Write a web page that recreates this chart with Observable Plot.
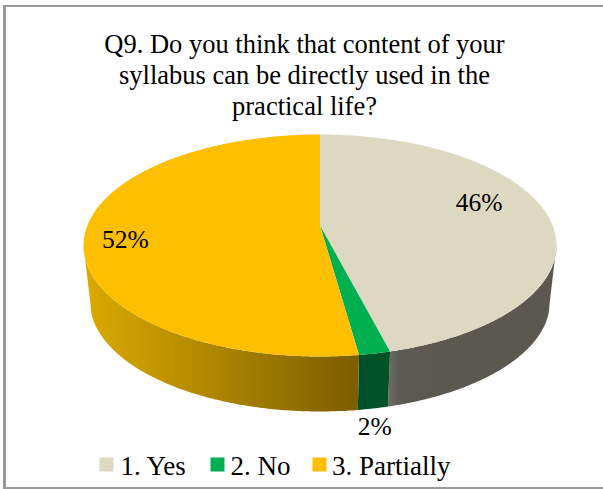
<!DOCTYPE html>
<html>
<head>
<meta charset="utf-8">
<script src="https://cdn.jsdelivr.net/npm/d3@7"></script>
<script src="https://cdn.jsdelivr.net/npm/@observablehq/plot@0.6"></script>
<style>
html,body{margin:0;padding:0;background:#fff;overflow:hidden}
svg{display:block}
#chart{position:relative;width:603px;height:489px;overflow:hidden}
#frame{position:absolute;left:3px;top:5px;width:640px;height:480px;border:2px solid #999;border-left-width:3px;box-sizing:content-box}
</style>
</head>
<body>
<div id="chart"></div>
<script>
const categories = ["1. Yes", "2. No", "3. Partially"];
const shares = [46, 1.8, 52.2];
const topColors = ["#DCD8C2", "#00AF50", "#FDBF00"];
const titleLines = ["Q9. Do you think that content of your", "syllabus can be directly used in the", "practical life?"];

// 3D pie camera: a perspective-foreshortened disc
const cx = 319.5, A = 232.6, k = -0.18, a = 66.9, b = 225;
function project(theta, r = 1) {
  const u = Math.sin(theta) * r, v = -Math.cos(theta) * r, w = 1 + k * v;
  return {x: cx + A * u / w, y: (a * v + b) / w};
}
function lower(p) {
  const drop = 55 + 1.5 * (356 - p.y) / 111 + 3.5 * Math.exp(-Math.max(0, p.y - 245) / 20);
  return {x: cx + (p.x - cx) * 0.97, y: p.y + drop};
}
const tau = Math.PI * 2;
const total = d3.sum(shares);
let acc = 0;
const slices = shares.map((s, i) => {
  const start = acc / total * tau; acc += s;
  return {i, start, end: acc / total * tau, name: categories[i], share: s};
});
function arcAngles(t0, t1) {
  const n = Math.max(2, Math.ceil((t1 - t0) / 0.01));
  return d3.range(n + 1).map(j => t0 + (t1 - t0) * j / n);
}
const topPolys = slices.flatMap(s => {
  const pts = [{x: cx, y: b}, ...arcAngles(s.start, s.end).map(t => project(t))];
  return pts.map(p => ({...p, i: s.i}));
});
// visible front wall of each slice, between the silhouette tangents
const tR = Math.PI - Math.acos(0.18), tL = tau - tR;
const sidePolys = slices.flatMap(s => {
  const t0 = Math.max(s.start, tR), t1 = Math.min(s.end, tL);
  if (t1 <= t0) return [];
  const ang = arcAngles(t0, t1);
  const upper = ang.map(t => project(t));
  const low = ang.slice().reverse().map(t => lower(project(t)));
  return [...upper, ...low].map(p => ({...p, i: s.i}));
});

const sideFill = ["url(#sideBeige)", "url(#sideGreen)", "url(#sideGold)"];
const labelRadius = [0.7, 1, 0.83];
const labelShift = [-13, 73, 8];
const labels = slices.map((s, i) => {
  const p = project((s.start + s.end) / 2, labelRadius[i]);
  return {x: p.x, y: p.y + labelShift[i], text: `${Math.round(s.share)}%`};
});

const legendX = [120, 230, 331.5];
const legendBox = [106, 217, 319];
const legendRows = categories.map((c, i) => ({name: c, x: legendX[i], box: legendBox[i], color: topColors[i]}));
const font = "'Liberation Serif','Times New Roman',serif";

const defs = () => {
  const ns = "http://www.w3.org/2000/svg";
  const d = document.createElementNS(ns, "defs");
  d.innerHTML = `
  <linearGradient id="sideGold" gradientUnits="userSpaceOnUse" x1="88" x2="358" y1="0" y2="0">
    <stop offset="0" stop-color="#D9A900"/><stop offset="1" stop-color="#7C5D00"/>
  </linearGradient>
  <linearGradient id="sideGreen" gradientUnits="userSpaceOnUse" x1="357" x2="388" y1="0" y2="0">
    <stop offset="0" stop-color="#00502A"/><stop offset="1" stop-color="#005327"/>
  </linearGradient>
  <linearGradient id="sideBeige" gradientUnits="userSpaceOnUse" x1="386" x2="556" y1="0" y2="0">
    <stop offset="0" stop-color="#716E66"/><stop offset="0.08" stop-color="#5C5951"/><stop offset="1" stop-color="#5B5850"/>
  </linearGradient>`;
  return d;
};

const plot = Plot.plot({
  width: 603, height: 489,
  margin: 0,
  x: {domain: [0, 603], range: [0, 603], axis: null},
  y: {domain: [0, 489], range: [0, 489], axis: null},
  style: {background: "#fff"},
  marks: [
    defs,
    ...slices.map((s, i) => Plot.line(sidePolys.filter(d => d.i === i), {x: "x", y: "y", fill: sideFill[i], stroke: "none", curve: "linear"})),
    ...slices.map((s, i) => Plot.line(topPolys.filter(d => d.i === i), {x: "x", y: "y", fill: topColors[i], stroke: "none", curve: "linear"})),
    Plot.text(labels, {x: "x", y: "y", text: "text", fontFamily: font, fontSize: 25.5, fill: "#000", textAnchor: "middle", lineAnchor: "middle"}),
    Plot.text(titleLines, {x: () => 304, y: (d, i) => [52, 83, 114][i], text: d => d, fontFamily: font, fontSize: 26.5, fill: "#000", textAnchor: "middle", lineAnchor: "bottom"}),
    Plot.dot(legendRows, {x: "box", y: () => 464, symbol: "square", r: 7.9, fill: "color", stroke: "none"}),
    Plot.text(legendRows, {x: "x", y: () => 474, text: "name", fontFamily: font, fontSize: 27, fill: "#000", textAnchor: "start", lineAnchor: "bottom"})
  ]
});
const chart = document.getElementById("chart");
chart.appendChild(plot);
const frame = document.createElement("div");
frame.id = "frame";
chart.appendChild(frame);
</script>
</body>
</html>
